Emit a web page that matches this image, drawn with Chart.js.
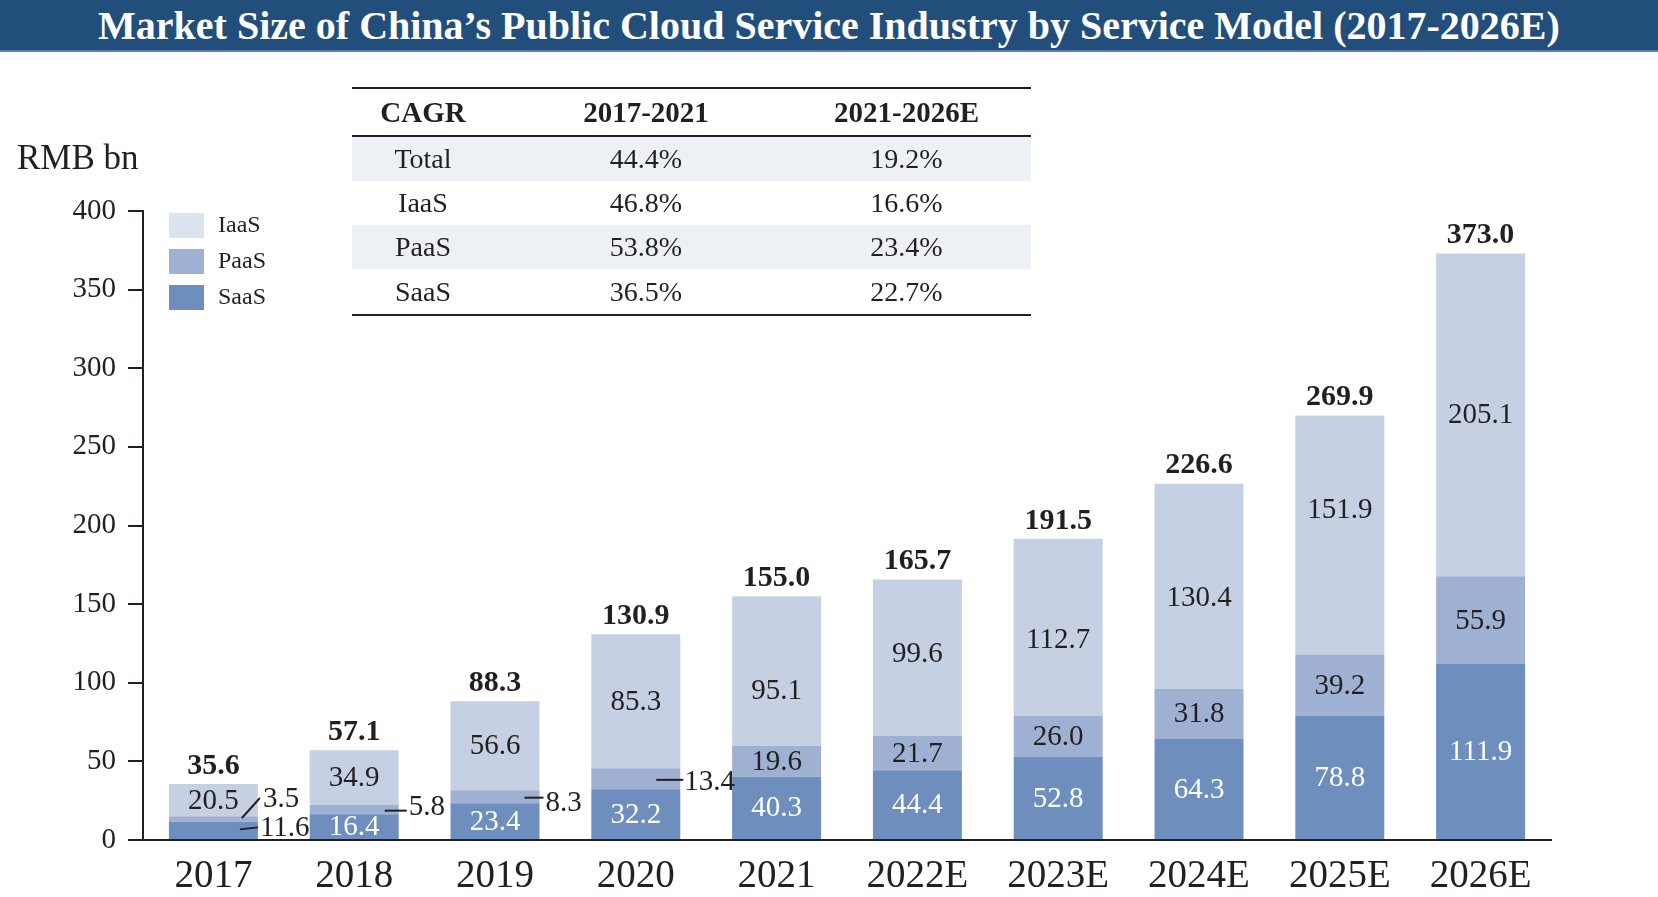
<!DOCTYPE html>
<html>
<head>
<meta charset="utf-8">
<script src="https://cdn.jsdelivr.net/npm/chart.js@4.4.1/dist/chart.umd.min.js"></script>
<style>
  html, body { margin: 0; padding: 0; background: #fff; }
  #wrap { position: relative; width: 1658px; height: 897px; overflow: hidden;
          font-family: "Liberation Serif", "Times New Roman", serif; color: #231f20; }
  #title { position: absolute; left: 0; top: 0; width: 1658px; height: 50px; line-height: 52px;
           background: #224e7b; border-bottom: 2px solid #5b7fa8; color: #fff;
           font-weight: bold; font-size: 40px; text-align: center; z-index: 2; }
  #unit { position: absolute; left: 17px; top: 137px; font-size: 35px; line-height: 42px; z-index: 2; }
  #cagr { position: absolute; left: 352px; top: 87px; width: 679px; border-collapse: collapse;
          font-size: 28px; z-index: 2; }
  #cagr th { font-weight: bold; font-size: 29px; height: 46px; padding: 0; border-top: 2px solid #231f20;
             border-bottom: 2px solid #231f20; }
  #cagr td { height: 44px; padding: 0; text-align: center; }
  #cagr tr.shade td { background: #edf0f5; }
  #cagr tr:last-child td { border-bottom: 2px solid #231f20; height: 45px; }
  #cagr .c3 { padding-right: 16px; }
  canvas { position: absolute; left: 0; top: 0; }
</style>
</head>
<body>
<div id="wrap">
  <div id="title">Market Size of China’s Public Cloud Service Industry by Service Model (2017-2026E)</div>
  <div id="unit">RMB bn</div>
  <table id="cagr"></table>
  <canvas id="marketChart" width="1658" height="897"></canvas>
</div>
<script>
// данные с картинки
const years = ['2017', '2018', '2019', '2020', '2021', '2022E', '2023E', '2024E', '2025E', '2026E'];
const saas = [11.6, 16.4, 23.4, 32.2, 40.3, 44.4, 52.8, 64.3, 78.8, 111.9];
const paas = [3.5, 5.8, 8.3, 13.4, 19.6, 21.7, 26.0, 31.8, 39.2, 55.9];
const iaas = [20.5, 34.9, 56.6, 85.3, 95.1, 99.6, 112.7, 130.4, 151.9, 205.1];
const totals = [35.6, 57.1, 88.3, 130.9, 155.0, 165.7, 191.5, 226.6, 269.9, 373.0];
const yMin = 0, yMax = 400, yStep = 50;

const cagrHeader = ['CAGR', '2017-2021', '2021-2026E'];
const cagrRows = ['Total', 'IaaS', 'PaaS', 'SaaS'];
const cagr1721 = ['44.4%', '46.8%', '53.8%', '36.5%'];
const cagr2126 = ['19.2%', '16.6%', '23.4%', '22.7%'];

const SERIF = '"Liberation Serif", "Times New Roman", serif';
const TEXT = '#231f20';
const colors = { SaaS: '#6e8fbd', PaaS: '#9fb1d2', IaaS: '#c5d0e3' };
const legendColors = { IaaS: '#dde3ee', PaaS: '#9fb1d2', SaaS: '#6e8fbd' };

// сдвиг подписей IaaS по вертикали (в оригинале они не строго по центру)
const iaasLabelNudge = [0, 0, 0, 0, 19, -4, 12, 11, -26, 0];
// выноски: [начало линии, конец линии, начало текста] от правого края столбца, сдвиг текста по y
const calloutOffsets = { 1: [-14, 8, 10, -3], 2: [-15, 4, 6, 6], 3: [-24, 3, 4, 3] };

// таблица CAGR
const table = document.getElementById('cagr');
table.innerHTML = `
    <tr>
        <th style="width:142px">${cagrHeader[0]}</th>
        <th style="width:304px">${cagrHeader[1]}</th>
        <th class="c3">${cagrHeader[2]}</th>
    </tr>
    ${cagrRows.map((name, i) => `
        <tr class="${i % 2 === 0 ? 'shade' : ''}">
            <td>${name}</td>
            <td>${cagr1721[i]}</td>
            <td class="c3">${cagr2126[i]}</td>
        </tr>
    `).join('')}
`;

// подписи значений внутри и снаружи столбцов
const barLabels = {
    id: 'barLabels',
    afterDatasetsDraw(chart) {
        const ctx = chart.ctx;
        const y = chart.scales.y;
        ctx.save();
        ctx.textBaseline = 'middle';
        ctx.font = `29px ${SERIF}`;

        chart.data.datasets.forEach((ds, di) => {
            const meta = chart.getDatasetMeta(di);
            meta.data.forEach((bar, i) => {
                const value = ds.data[i];
                const cy = (bar.y + bar.base) / 2;
                const right = bar.x + bar.width / 2;
                const outside = ds.callouts.includes(i);
                if (!outside) {
                    const nudge = ds.label === 'IaaS' ? iaasLabelNudge[i] : 0;
                    ctx.fillStyle = ds.labelColor;
                    ctx.textAlign = 'center';
                    ctx.fillText(value.toFixed(1), bar.x, cy + 1 + nudge);
                    return;
                }
                ctx.strokeStyle = TEXT;
                ctx.lineWidth = 2;
                ctx.fillStyle = TEXT;
                ctx.textAlign = 'left';
                ctx.beginPath();
                let tx, ty;
                if (ds.label === 'SaaS') {
                    ctx.moveTo(right - 18, cy - 1);
                    ctx.lineTo(right, cy - 3);
                    tx = right + 2; ty = cy - 3;
                } else if (i === 0) {
                    ctx.moveTo(right - 16, cy - 1);
                    ctx.lineTo(right + 2, cy - 21);
                    tx = right + 5; ty = cy - 21;
                } else {
                    const [a, b, t, dy] = calloutOffsets[i];
                    ctx.moveTo(right + a, cy + 1);
                    ctx.lineTo(right + b, cy + 1);
                    tx = right + t; ty = cy + dy;
                }
                ctx.stroke();
                ctx.fillText(value.toFixed(1), tx, ty + 1);
            });
        });

        // итог над столбцом
        const top = chart.getDatasetMeta(chart.data.datasets.length - 1);
        ctx.font = `bold 30px ${SERIF}`;
        ctx.fillStyle = TEXT;
        ctx.textAlign = 'center';
        ctx.textBaseline = 'bottom';
        top.data.forEach((bar, i) => {
            ctx.fillText(totals[i].toFixed(1), bar.x, y.getPixelForValue(totals[i]) - 3);
        });
        ctx.restore();
    }
};

// легенда слева сверху
const sideLegend = {
    id: 'sideLegend',
    afterDraw(chart) {
        const ctx = chart.ctx;
        ctx.save();
        ctx.font = `24px ${SERIF}`;
        ctx.textBaseline = 'middle';
        ctx.textAlign = 'left';
        ['IaaS', 'PaaS', 'SaaS'].forEach((name, k) => {
            const top = 213 + k * 36;
            ctx.fillStyle = legendColors[name];
            ctx.fillRect(169, top, 35, 25);
            ctx.fillStyle = TEXT;
            ctx.fillText(name, 218, top + 13);
        });
        ctx.restore();
    }
};

const ctx = document.getElementById('marketChart').getContext('2d');
new Chart(ctx, {
    type: 'bar',
    data: {
        labels: years,
        datasets: [
            { label: 'SaaS', data: saas, backgroundColor: colors.SaaS, labelColor: '#ffffff', callouts: [0] },
            { label: 'PaaS', data: paas, backgroundColor: colors.PaaS, labelColor: TEXT, callouts: [0, 1, 2, 3] },
            { label: 'IaaS', data: iaas, backgroundColor: colors.IaaS, labelColor: TEXT, callouts: [] }
        ]
    },
    options: {
        responsive: false,
        animation: false,
        devicePixelRatio: 1,
        layout: { padding: { top: 211, right: 107, left: 0, bottom: 0 } },
        datasets: {
            bar: { barPercentage: 0.632, categoryPercentage: 1, borderWidth: 0 }
        },
        scales: {
            x: {
                stacked: true,
                grid: { display: false, drawTicks: false },
                border: { display: true, color: TEXT, width: 2 },
                ticks: { color: TEXT, font: { family: SERIF, size: 39 }, padding: 13, maxRotation: 0 },
                afterFit(scale) { scale.height = 57; }
            },
            y: {
                stacked: true,
                min: yMin,
                max: yMax,
                grid: { drawOnChartArea: false, drawTicks: true, tickLength: 15, color: TEXT, lineWidth: 2 },
                border: { display: true, color: TEXT, width: 2 },
                ticks: { stepSize: yStep, color: TEXT, font: { family: SERIF, size: 29 }, padding: 12 },
                afterFit(scale) { scale.width = 143; }
            }
        },
        plugins: {
            legend: { display: false },
            tooltip: { enabled: false }
        }
    },
    plugins: [barLabels, sideLegend]
});
</script>
</body>
</html>
